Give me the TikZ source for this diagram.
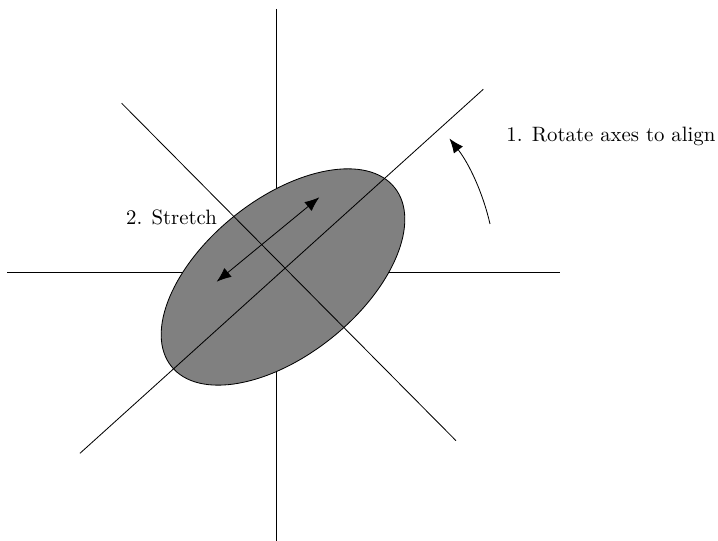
\documentclass[tikz,border=0pt]{standalone}
\usetikzlibrary{arrows.meta}

\begin{document}
\begin{tikzpicture}[x=0.4808pt, y=0.4808pt,
    blob/.style={draw=black, fill=gray},
    tip/.style={-{Latex[length=7pt,width=5.5pt]}},
    twotip/.style={{Latex[length=7pt,width=5.5pt]}-{Latex[length=7pt,width=5.5pt]}},
    lbl/.style={inner sep=0pt, anchor=base west}]

    \useasboundingbox (0,0) rectangle (718,541);

    % Original axes
    \coordinate (vtop) at (276,532);
    \coordinate (vbot) at (276,0);
    \coordinate (hleft) at (7,268.3);
    \coordinate (hright) at (560,268.3);
    \draw (vtop) -- (vbot);
    \draw (hleft) -- (hright);

    % Data ellipse
    \coordinate (mid) at (283,264);
    \draw [blob, shift={(mid)}, rotate=38.7] (0,0) ellipse [x radius=143, y radius=78];

    % Rotated axes
    \coordinate (ptop) at (483.3,451.7);
    \coordinate (pbot) at (80,87.7);
    \coordinate (qtop) at (121.7,437.7);
    \coordinate (qbot) at (456,100.3);
    \draw (pbot) -- (ptop);
    \draw (qtop) -- (qbot);

    % Stretch arrow
    \coordinate (sa) at (216.7,259.3);
    \coordinate (sb) at (319.3,343.7);
    \draw [twotip] (sa) -- (sb);

    % Rotate arrow
    \coordinate (rstart) at (490,317);
    \draw [tip] (rstart) arc [start angle=12.8, end angle=38, radius=217];

    % Labels
    \node [lbl] (stretch) at (125.7,316) {2. Stretch};
    \node [lbl] (rotate) at (506,399.3) {1. Rotate axes to align};
\end{tikzpicture}
\end{document}
